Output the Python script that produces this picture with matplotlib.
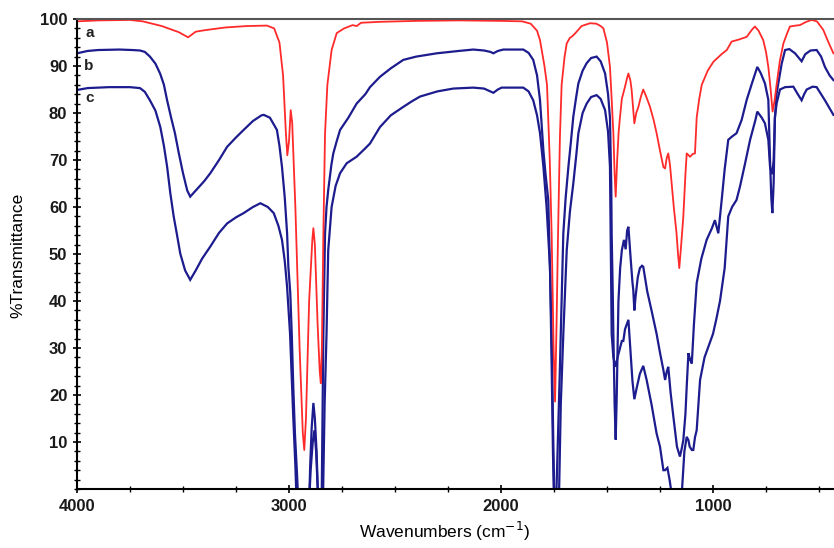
import numpy as np
import matplotlib
matplotlib.use("Agg")
import matplotlib.pyplot as plt
from matplotlib.ticker import MultipleLocator, FixedLocator

# ---- data (wavenumber cm-1, %T) ----
wn_a = [4000, 3900, 3750, 3690, 3600, 3520, 3476, 3440, 3400, 3300, 3200, 3104, 3070, 3045, 3028, 3015, 3008, 3000, 2992, 2985,
        2970, 2950, 2935, 2928, 2920, 2905, 2890, 2885, 2878, 2865, 2855, 2850, 2845, 2838, 2830, 2819, 2799, 2775, 2740, 2700,
        2681, 2660, 2571, 2400, 2200, 2000, 1900, 1860, 1830, 1816, 1795, 1783, 1770, 1761, 1752, 1745, 1738, 1731, 1722, 1714,
        1700, 1690, 1675, 1667, 1651, 1620, 1580, 1550, 1530, 1517, 1500, 1486, 1478, 1470, 1464, 1459, 1452, 1445, 1439, 1430,
        1415, 1405, 1399, 1390, 1384, 1375, 1371, 1362, 1352, 1340, 1329, 1315, 1297, 1280, 1266, 1250, 1234, 1226, 1218, 1211,
        1203, 1195, 1185, 1172, 1165, 1159, 1150, 1140, 1130, 1124, 1115, 1108, 1095, 1085, 1077, 1065, 1053, 1025, 998, 960,
        935, 912, 880, 841, 815, 802, 785, 763, 750, 739, 728, 719, 710, 700, 685, 668, 650, 637, 610, 590,
        560, 535, 510, 480, 455, 432]
t_a = [99.5, 99.7, 99.8, 99.5, 98.5, 97.2, 96.1, 97.3, 97.6, 98.2, 98.5, 98.6, 98.0, 95, 88, 76, 71, 74, 80.6, 78,
       60, 30, 12, 8.3, 15, 40, 53, 55.5, 52, 35, 25, 22.5, 30, 54, 75.7, 86, 93.4, 97, 98, 98.7,
       98.5, 99.2, 99.4, 99.6, 99.7, 99.6, 99.5, 99.0, 97.5, 95.5, 90, 86, 70, 54, 30, 18.6, 35, 54, 75, 86,
       92, 94.8, 96, 96.2, 96.9, 98.5, 99.1, 99, 98.5, 98, 95, 89.8, 83, 75.7, 67, 62.2, 70, 76, 79, 83,
       85.6, 87.5, 88.4, 87, 85, 80, 77.8, 80, 81.3, 83.5, 85, 83.5, 81.3, 78.5, 75.7, 72, 68.5, 68.2, 70.5, 71.4,
       69, 65, 60, 54.4, 50, 47, 52, 58, 67, 71.4, 71, 70.7, 71.3, 71.4, 79, 83, 86, 89, 90.9, 92.5,
       93.4, 95.2, 95.6, 96.2, 97.8, 98.4, 97.5, 95.5, 93, 89.8, 85, 80.3, 82.5, 86, 91, 94.8, 97, 98.4, 98.6, 98.7,
       99.4, 99.8, 99.5, 97.7, 95, 92.7]

wn_b = [4000, 3950, 3900, 3800, 3740, 3703, 3680, 3656, 3630, 3608, 3590, 3575, 3556, 3538, 3520, 3500, 3480, 3466, 3440, 3400,
        3371, 3330, 3292, 3250, 3214, 3170, 3130, 3119, 3090, 3057, 3045, 3033, 3020, 3009, 3003, 2994, 2987, 2980, 2972, 2962,
        2956, 2930, 2905, 2900, 2893, 2885, 2878, 2870, 2862, 2850, 2846, 2842, 2838, 2834, 2830, 2823, 2815, 2800, 2791, 2775,
        2759, 2720, 2681, 2640, 2618, 2571, 2520, 2461, 2400, 2303, 2200, 2131, 2080, 2050, 2036, 2015, 1989, 1895, 1870, 1848,
        1830, 1816, 1800, 1790, 1777, 1768, 1761, 1755, 1750, 1740, 1735, 1729, 1722, 1714, 1706, 1695, 1682, 1670, 1659, 1645,
        1635, 1615, 1596, 1575, 1549, 1530, 1509, 1495, 1486, 1480, 1478, 1473, 1470, 1464, 1459, 1454, 1446, 1438, 1430, 1420,
        1412, 1405, 1399, 1390, 1380, 1376, 1371, 1365, 1355, 1345, 1335, 1329, 1310, 1290, 1266, 1250, 1234, 1226, 1218, 1211,
        1200, 1187, 1170, 1156, 1148, 1140, 1130, 1124, 1116, 1108, 1100, 1090, 1077, 1055, 1030, 1005, 991, 975, 959, 945,
        928, 910, 889, 865, 841, 815, 791, 775, 755, 739, 731, 725, 720, 714, 708, 700, 692, 676, 660, 640,
        613, 600, 582, 565, 540, 511, 490, 472, 450, 432]
t_b = [92.7, 93.2, 93.4, 93.5, 93.4, 93.3, 93, 92, 90.5, 88.4, 86, 82.7, 79, 75.7, 71.5, 67.2, 63.5, 62.2, 63.5, 65.5,
       67.2, 70, 72.8, 74.8, 76.4, 78.3, 79.5, 79.6, 79, 76.4, 73, 68.5, 62, 54.4, 47.3, 41.7, 33, 22, 11.8, 3,
       -3, -5, -3, 5, 13, 18.3, 15, 8, -3, -5, -3, 15, 33, 44, 54.4, 60, 63.6, 69, 71.4, 74,
       76.4, 79, 82, 84, 85.5, 87.7, 89.5, 91.3, 92, 92.7, 93.2, 93.5, 93.3, 93, 92.7, 93.2, 93.5, 93.5, 92.8, 91.3,
       88, 82.7, 72, 67, 61.5, 45, 26, 8, -3, -3, 5, 15, 26, 40, 54.4, 62, 68.6, 74, 79.2, 83.5,
       86.3, 89, 90.6, 91.7, 92, 91, 88.4, 84, 79, 65, 54.4, 42, 33, 18, 10.5, 20, 40, 47, 50.8, 53,
       51, 55, 55.8, 50, 44, 42.3, 38, 41, 45, 47, 47.5, 47.3, 42, 38, 33, 29, 25.3, 23.2, 25, 26,
       20.5, 15.4, 9, 6.9, 8.5, 10.4, 16, 21.8, 28.9, 27.5, 26.7, 35, 43.8, 49, 53, 55.5, 57.2, 54.4, 61.5, 68,
       74.3, 75, 75.7, 78.5, 82.8, 86.5, 89.8, 88.5, 86.3, 82.8, 70, 62, 58.7, 65, 79, 84, 86.3, 90.5, 93.4, 93.6,
       92.7, 92, 91, 92.5, 93.3, 93.4, 92, 89.8, 88, 87]

wn_c = [4000, 3950, 3850, 3750, 3703, 3680, 3656, 3630, 3607, 3590, 3575, 3560, 3544, 3528, 3513, 3490, 3466, 3440, 3410, 3371,
        3330, 3292, 3250, 3214, 3170, 3135, 3100, 3072, 3050, 3033, 3020, 3009, 2995, 2980, 2970, 2964, 2930, 2905, 2898, 2888,
        2880, 2872, 2862, 2850, 2840, 2832, 2823, 2815, 2799, 2780, 2759, 2728, 2681, 2640, 2618, 2571, 2520, 2461, 2420, 2382,
        2300, 2225, 2131, 2080, 2050, 2036, 2015, 1997, 1895, 1870, 1848, 1830, 1816, 1800, 1785, 1769, 1760, 1754, 1748, 1738,
        1727, 1718, 1706, 1690, 1675, 1659, 1645, 1635, 1615, 1596, 1575, 1549, 1530, 1509, 1495, 1486, 1482, 1478, 1470, 1459,
        1450, 1430, 1423, 1415, 1399, 1390, 1380, 1371, 1360, 1345, 1329, 1313, 1290, 1266, 1250, 1234, 1226, 1215, 1205, 1195,
        1180, 1150, 1143, 1135, 1124, 1116, 1110, 1100, 1093, 1085, 1077, 1061, 1040, 1020, 1000, 985, 967, 945, 928, 910,
        889, 873, 850, 825, 800, 791, 770, 755, 739, 731, 725, 720, 714, 708, 700, 684, 660, 621, 600, 582,
        570, 558, 530, 511, 490, 472, 450, 432]
t_c = [84.9, 85.3, 85.5, 85.5, 85.3, 84.5, 82.7, 80.5, 77, 73, 68.6, 63, 58, 54, 50.1, 46.5, 44.5, 46.5, 49, 51.6,
       54.5, 56.5, 57.8, 58.7, 60, 60.8, 60, 58.7, 56, 53, 48.5, 43, 33, 15.4, 5, -3, -5, -3, 4, 10,
       12.5, 8, -3, -5, -3, 18, 33, 50.8, 60, 64.5, 67.2, 69.3, 70.7, 72.5, 73.5, 77, 79.5, 81.3, 82.5, 83.5,
       84.6, 85.2, 85.4, 85.2, 84.6, 84.3, 85, 85.4, 85.4, 84.6, 82.7, 79.5, 75.7, 68.6, 60, 47.3, 30, 11.8, -3, -5,
       -3, 18, 33, 50.8, 59, 65, 71, 75.7, 80, 82, 83.4, 83.8, 83, 80.6, 76, 68.6, 50, 33, 28, 26,
       28, 31.5, 31.5, 34, 36, 30, 23, 19.1, 21.5, 24.5, 26.2, 23.2, 18, 11.8, 9, 4, 4, 4.5, 2, -1,
       -3, -3, 2, 8, 11.1, 10.4, 9, 8.3, 8.3, 11, 12.5, 23.2, 28, 30.5, 33, 36, 40, 47, 58, 60,
       61.5, 64.3, 69, 74.3, 78.5, 80.3, 79, 77.8, 74.3, 68.6, 67.5, 67, 70, 79, 82, 85, 85.5, 85.6, 84, 82.7,
       84, 85, 85.6, 85.5, 84, 82.7, 81, 79.6]

x_major = [4000, 3000, 2000, 1000]
x_labels = ["4000", "3000", "2000", "1000"]
y_major = [10, 20, 30, 40, 50, 60, 70, 80, 90, 100]
curve_labels = ["a", "b", "c"]
label_pos = [(3940, 97.0), (3945, 90.0), (3940, 83.2)]

RED = "#ff2a2a"
BLUE = "#1c1c8e"

plt.rcParams['font.family'] = ['Liberation Sans', 'DejaVu Sans']

fig = plt.figure(figsize=(8.34, 5.48), dpi=100)
ax = fig.add_axes([77/834, 1 - 489/548, 1 - 77/834, (489 - 19)/548])

ax.plot(wn_c, t_c, color=BLUE, lw=1.6, solid_joinstyle='miter')
ax.plot(wn_b, t_b, color=BLUE, lw=1.6, solid_joinstyle='miter')
ax.plot(wn_a, t_a, color=RED, lw=1.3)

ax.set_xlim(4000, 4000 - (834 - 77) / 0.212)
ax.set_ylim(0, 100)

ax.xaxis.set_major_locator(FixedLocator(x_major))
ax.set_xticklabels(x_labels)
ax.xaxis.set_minor_locator(MultipleLocator(250))
ax.yaxis.set_major_locator(FixedLocator(y_major))
ax.yaxis.set_minor_locator(MultipleLocator(2))

ax.tick_params(axis='both', which='major', direction='inout', length=6, width=1.2, labelsize=12, pad=4, colors='black')
ax.tick_params(axis='both', which='minor', direction='inout', length=4, width=1.0)
for lbl in ax.get_xticklabels() + ax.get_yticklabels():
    lbl.set_fontweight('bold')
    lbl.set_color('#1a1a1a')

for s in ['left', 'bottom']:
    ax.spines[s].set_linewidth(1.5)
    ax.spines[s].set_color('black')
ax.spines['top'].set_color('#555555')
ax.spines['top'].set_linewidth(1.5)
ax.spines['right'].set_visible(False)

for lab, (x, y) in zip(curve_labels, label_pos):
    ax.text(x, y, lab, fontsize=11, fontweight='bold', color='#222222', ha='center', va='center')

fig.text(18/834, 1 - 255/548, "%Transmittance", rotation=90, ha='center', va='center', fontsize=12.5)
fig.text(445/834, 1 - 531/548, "Wavenumbers (cm$^{-1}$)", ha='center', va='center', fontsize=12.5)

fig.savefig("out.png", dpi=100)
